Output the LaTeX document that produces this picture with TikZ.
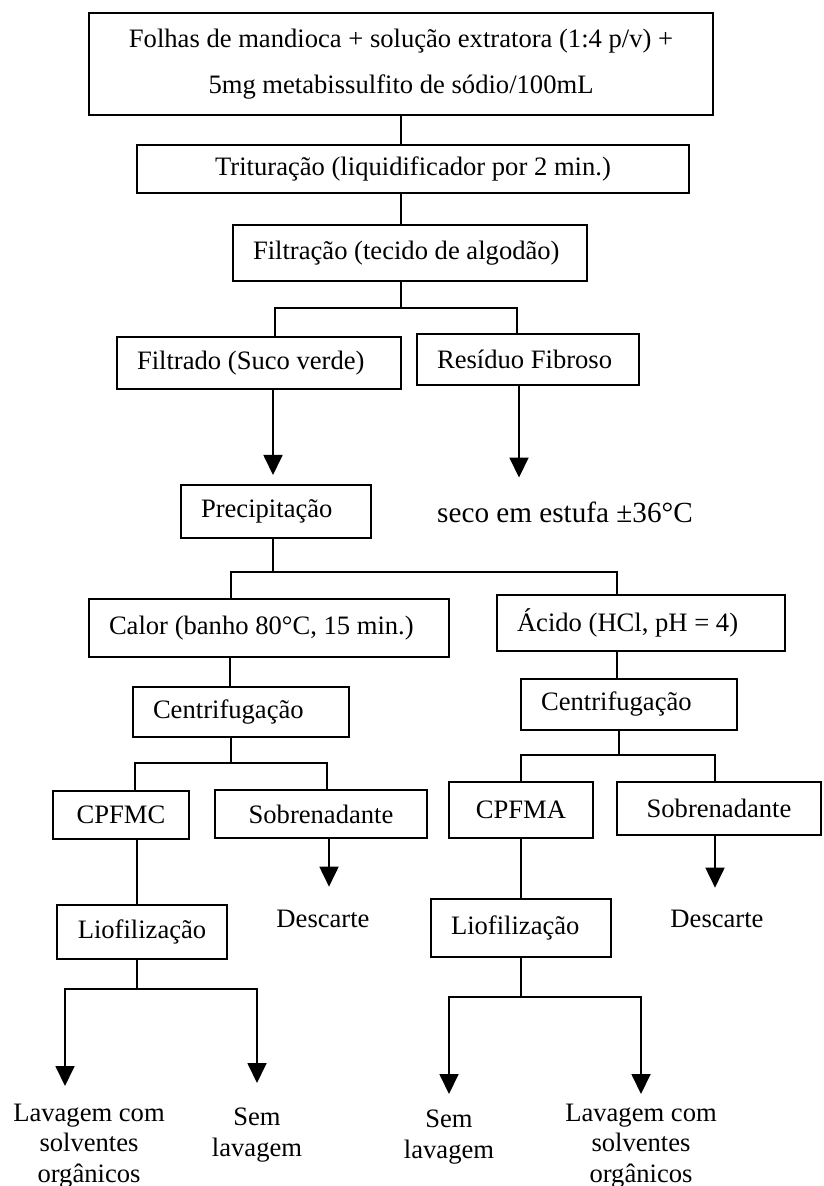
\documentclass[tikz,border=0pt]{standalone}
\usepackage{fontspec}
\setmainfont{Liberation Serif}
\usetikzlibrary{arrows.meta}

\begin{document}
\begin{tikzpicture}[
  x=0.5pt, y=-0.5pt,
  font=\fontsize{13.3}{15.25}\selectfont,
  procbox/.style={draw, line width=1pt, inner ysep=0pt},
  midbox/.style={procbox, align=center, minimum width=#1},
  leftbox/.style={procbox, align=flush left, inner xsep=10pt, text width=#1},
  txt/.style={inner sep=0pt, align=center},
  arrow/.style={-{Triangle[length=10pt,width=9.5pt]}, line width=0.9pt, shorten >=#1},
  arrow/.default=0pt,
  every path/.style={line width=0.9pt}
]
\useasboundingbox (0,0) rectangle (823,1186);
% boxes
\node[midbox=312pt, minimum height=51pt, font=\fontsize{13.3}{23}\selectfont] (folhas) at (401,64)
  {Folhas de mandioca + solução extratora (1:4 p/v) +\\5mg metabissulfito de sódio/100mL};
\node[midbox=276pt, minimum height=24pt] (tritura) at (413,169) {Trituração (liquidificador por 2 min.)};
\node[leftbox=157pt, minimum height=28pt] (filtra) at (410,253) {Filtração (tecido de algodão)};
\node[leftbox=122pt, minimum height=26pt] (filtrado) at (259,363) {Filtrado (Suco verde)};
\node[leftbox=91pt, minimum height=25.5pt] (residuo) at (528,359.5) {Resíduo Fibroso};
\node[leftbox=75pt, minimum height=26.5pt] (precip) at (276,511.5) {Precipitação};
\node[txt, anchor=base, font=\fontsize{14.6}{16}\selectfont] (seco) at (565,523) {seco em estufa ±36°C};
\node[leftbox=160pt, minimum height=29pt] (calor) at (269,628) {Calor (banho 80°C, 15 min.)};
\node[leftbox=124pt, minimum height=28pt] (acido) at (641,623) {Ácido (HCl, pH = 4)};
\node[leftbox=88pt, minimum height=25pt] (centriL) at (241,712) {Centrifugação};
\node[leftbox=88pt, minimum height=25.5pt] (centriR) at (629,704.5) {Centrifugação};
\node[midbox=68pt, minimum height=24pt] (cpfmc) at (121,815) {CPFMC};
\node[midbox=106pt, minimum height=24pt] (sobreL) at (321,814) {Sobrenadante};
\node[midbox=72pt, minimum height=28pt] (cpfma) at (521,810) {CPFMA};
\node[midbox=102pt, minimum height=26.5pt] (sobreR) at (719,808.5) {Sobrenadante};
\node[txt, anchor=base] (descL) at (323,927) {Descarte};
\node[txt, anchor=base] (descR) at (717,927) {Descarte};
\node[midbox=85pt, minimum height=27pt] (liofL) at (142,932) {Liofilização};
\node[leftbox=70pt, minimum height=29pt] (liofR) at (521,928) {Liofilização};
\node[txt, anchor=north] (lavL) at (89,1103) {Lavagem com\\solventes\\orgânicos};
\node[txt, anchor=north] (semL) at (257,1107) {Sem\\lavagem};
\node[txt, anchor=north] (semR) at (449,1109) {Sem\\lavagem};
\node[txt, anchor=north] (lavR) at (641,1103) {Lavagem com\\solventes\\orgânicos};
% junctions
\coordinate (splitA) at (401,308);
\coordinate (splitB) at (273,572);
\coordinate (splitC) at (231,763);
\coordinate (splitD) at (137,989);
\coordinate (splitE) at (619,755);
\coordinate (splitF) at (521,997);
% top
\draw (folhas.south) -- (folhas.south |- tritura.north);
\draw (tritura.south -| folhas.south) -- (filtra.north -| folhas.south);
\draw (filtra.south -| splitA) -- (splitA);
\draw ([xshift=8pt]filtrado.north) |- (splitA) -| ([xshift=-5.5pt]residuo.north);
\draw[arrow=4.5pt] ([xshift=7pt]filtrado.south) -- ([xshift=7pt]filtrado.south |- precip.north);
\draw[arrow=12pt] ([xshift=-4.5pt]residuo.south) -- ([xshift=-4.5pt]residuo.south |- seco.north);
\draw (precip.south -| splitB) -- (splitB);
\draw ([xshift=-19pt]calor.north) |- (splitB) -| ([xshift=-12pt]acido.north);
% left branch
\draw ([xshift=-5.5pt]centriL.north) -- ([xshift=-5.5pt]centriL.north |- calor.south);
\draw (centriL.south -| splitC) -- (splitC);
\draw ([xshift=7pt]cpfmc.north) |- (splitC) -| ([xshift=3pt]sobreL.north);
\draw ([xshift=8pt]cpfmc.south) -- ([xshift=8pt]cpfmc.south |- liofL.north);
\draw[arrow=11pt] ([xshift=4pt]sobreL.south) -- ([xshift=4pt]sobreL.south |- descL.north);
\draw (liofL.south -| splitD) -- (splitD);
\draw[arrow=8.5pt] (splitD) -| ([xshift=-12pt]lavL.north);
\draw[arrow=12pt] (splitD) -| (semL.north);
% right branch
\draw ([xshift=-6pt]centriR.north) -- ([xshift=-6pt]centriR.north |- acido.south);
\draw (centriR.south -| splitE) -- (splitE);
\draw (cpfma.north) |- (splitE) -| ([xshift=-2pt]sobreR.north);
\draw (cpfma) -- (liofR);
\draw[arrow=10.5pt] ([xshift=-2pt]sobreR.south) -- ([xshift=-2pt]sobreR.south |- descR.north);
\draw (liofR.south) -- (splitF);
\draw[arrow=7.5pt] (splitF) -| (semR.north);
\draw[arrow=4.5pt] (splitF) -| (lavR.north);
\end{tikzpicture}
\end{document}
